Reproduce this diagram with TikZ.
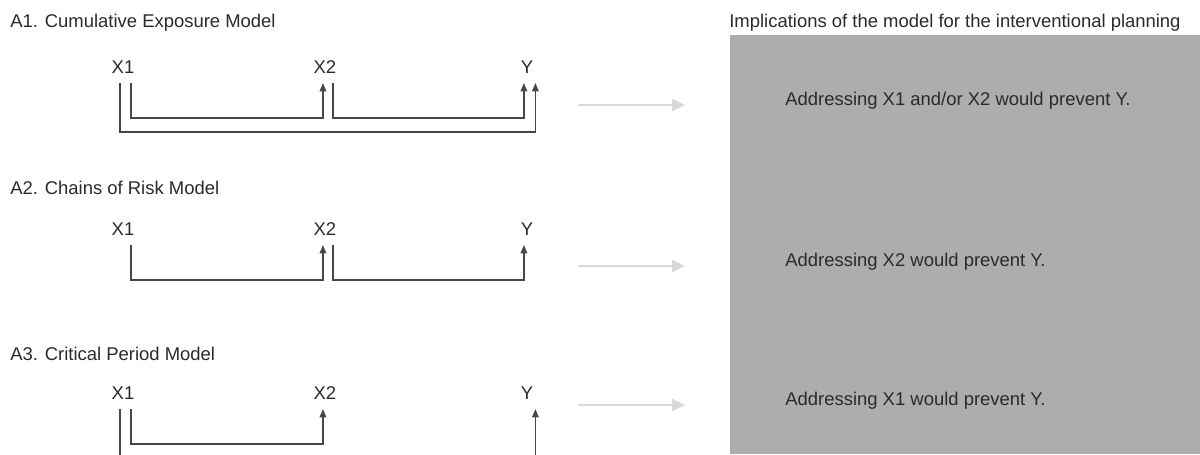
\documentclass[tikz,border=0pt]{standalone}
\usepackage{fontspec}
\setmainfont{Liberation Sans}
\usetikzlibrary{positioning,arrows.meta}

\definecolor{inkgray}{HTML}{2A2A2A}
\definecolor{linegray}{HTML}{484848}
\definecolor{boxgray}{HTML}{ADADAD}
\definecolor{hintgray}{HTML}{D9D9D9}

\begin{document}
\begin{tikzpicture}[x=0.02cm, y=-0.02cm, node distance=4.04cm, on grid,
   every node/.style={font=\fontsize{10.5}{12}\selectfont, text=inkgray, inner sep=0pt},
   title/.style={anchor=base west},
   var/.style={text height=7.5pt, text depth=0pt, anchor=south},
   link/.style={draw=linegray, line width=0.8pt, -{Triangle[length=4.8pt,width=3.8pt]}},
   hint/.style={draw=hintgray, line width=1.5pt, -{Triangle[length=7.4pt,width=6.8pt]}}]
   \clip (0,0) rectangle (1200,454);

   % implications panel
   \node[fill=boxgray, anchor=north west, minimum width=9.4cm, minimum height=8.38cm] (impl) at (730,35) {};
   \node[title] (head) at (729,27) {Implications of the model for the interventional planning};
   \node[title] (imp1) at (785,105) {Addressing X1 and/or X2 would prevent Y.};
   \node[title] (imp2) at (785,266) {Addressing X2 would prevent Y.};
   \node[title] (imp3) at (785,405) {Addressing X1 would prevent Y.};

   % A1
   \node[title] (ta1) at (10,27) {A1. Cumulative Exposure Model};
   \node[var] (x1a) at (123,74) {X1};
   \node[var] (x2a) [right=of x1a] {X2};
   \node[var] (ya)  [right=of x2a] {Y};
   \draw[link] ([shift={(8,9)}]x1a.south) -- ++(0,35) -| ([shift={(-2,9)}]x2a.south);
   \draw[link] ([shift={(8,9)}]x2a.south) -- ++(0,35) -| ([shift={(-3,9)}]ya.south);
   \draw[link] ([shift={(-3,9)}]x1a.south) -- ++(0,49) -| ([shift={(8.5,9)}]ya.south);

   % A2
   \node[title] (ta2) at (10,194) {A2. Chains of Risk Model};
   \node[var] (x1b) at (123,236) {X1};
   \node[var] (x2b) [right=of x1b] {X2};
   \node[var] (yb)  [right=of x2b] {Y};
   \draw[link] ([shift={(8,9)}]x1b.south) -- ++(0,35) -| ([shift={(-2,9)}]x2b.south);
   \draw[link] ([shift={(8,9)}]x2b.south) -- ++(0,35) -| ([shift={(-3,9)}]yb.south);

   % A3
   \node[title] (ta3) at (10,360) {A3. Critical Period Model};
   \node[var] (x1c) at (123,400) {X1};
   \node[var] (x2c) [right=of x1c] {X2};
   \node[var] (yc)  [right=of x2c] {Y};
   \draw[link] ([shift={(8,9)}]x1c.south) -- ++(0,35) -| ([shift={(-2,9)}]x2c.south);
   \draw[link] ([shift={(-3,9)}]x1c.south) -- ++(0,49) -| ([shift={(8.5,9)}]yc.south);

   % arrows towards the panel
   \coordinate (h1s) at (578,105); \coordinate (h1e) at (685,105);
   \coordinate (h2s) at (578,266); \coordinate (h2e) at (685,266);
   \coordinate (h3s) at (578,405); \coordinate (h3e) at (685,405);
   \draw[hint] (h1s) -- (h1e);
   \draw[hint] (h2s) -- (h2e);
   \draw[hint] (h3s) -- (h3e);
\end{tikzpicture}
\end{document}
